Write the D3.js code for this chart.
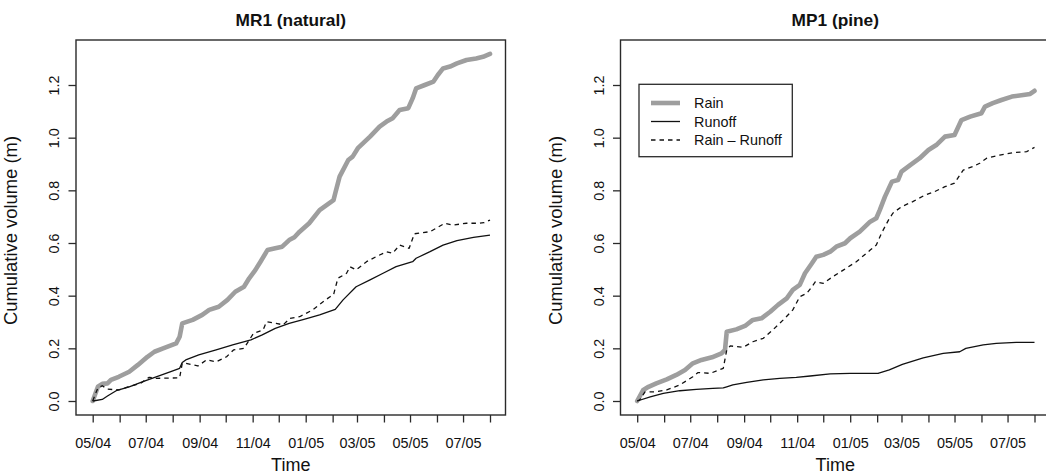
<!DOCTYPE html>
<html><head><meta charset="utf-8">
<script src="https://cdn.jsdelivr.net/npm/d3@7"></script>
<style>
body{margin:0;background:#fff}
svg{display:block}
text{font-family:"Liberation Sans",Arial,Helvetica,sans-serif;fill:#111}
</style>
</head><body>
<svg id="chart" width="1046" height="475"></svg>
<script>
// ---------- data ----------
const panelTitles = ["MR1 (natural)", "MP1 (pine)"];
const seriesNames = ["Rain", "Runoff", "Rain \u2013 Runoff"];
const yTicks = [0, 0.2, 0.4, 0.6, 0.8, 1.0, 1.2];
const xTickLabels = ["05/04","07/04","09/04","11/04","01/05","03/05","05/05","07/05"];
const timeStart = "2004-05-01";
const timeEnd = "2005-08-01";
const xLabel = "Time";
const yLabel = "Cumulative volume (m)";

const mr1Rain = [
["2004-05-01",0.000],["2004-05-07",0.054],["2004-05-12",0.065],["2004-05-18",0.067],["2004-05-22",0.080],
["2004-05-31",0.092],["2004-06-12",0.111],["2004-06-22",0.137],["2004-07-03",0.168],["2004-07-11",0.187],
["2004-07-21",0.200],["2004-08-05",0.219],["2004-08-09",0.244],["2004-08-12",0.295],["2004-08-24",0.308],
["2004-09-04",0.327],["2004-09-12",0.346],["2004-09-23",0.358],["2004-10-03",0.384],["2004-10-12",0.415],
["2004-10-22",0.434],["2004-10-28",0.466],["2004-11-04",0.497],["2004-11-10",0.529],["2004-11-18",0.573],
["2004-11-27",0.580],["2004-12-05",0.586],["2004-12-13",0.611],["2004-12-19",0.622],["2004-12-25",0.643],
["2005-01-05",0.675],["2005-01-17",0.725],["2005-01-25",0.744],["2005-02-02",0.763],["2005-02-04",0.789],
["2005-02-09",0.852],["2005-02-19",0.915],["2005-02-24",0.928],["2005-03-02",0.960],["2005-03-16",1.004],
["2005-03-27",1.042],["2005-04-04",1.061],["2005-04-11",1.074],["2005-04-19",1.105],["2005-04-29",1.112],
["2005-05-04",1.149],["2005-05-08",1.187],["2005-05-18",1.200],["2005-05-28",1.213],["2005-06-02",1.238],
["2005-06-08",1.263],["2005-06-16",1.270],["2005-06-24",1.282],["2005-07-05",1.295],["2005-07-16",1.301],
["2005-07-24",1.307],["2005-08-01",1.318]
];
const mr1Runoff = [
["2004-05-01",0.000],["2004-05-03",0.001],["2004-05-12",0.006],["2004-05-18",0.019],["2004-05-28",0.039],
["2004-06-12",0.054],["2004-06-27",0.073],["2004-07-13",0.092],["2004-07-29",0.111],["2004-08-09",0.124],
["2004-08-12",0.146],["2004-08-16",0.156],["2004-08-31",0.175],["2004-09-20",0.194],["2004-10-09",0.213],
["2004-10-30",0.232],["2004-11-12",0.251],["2004-11-27",0.276],["2004-12-13",0.295],["2004-12-30",0.310],
["2005-01-17",0.327],["2005-02-04",0.348],["2005-02-13",0.384],["2005-02-28",0.434],["2005-03-16",0.460],
["2005-03-31",0.485],["2005-04-15",0.510],["2005-05-04",0.529],["2005-05-08",0.542],["2005-05-24",0.567],
["2005-06-08",0.592],["2005-06-24",0.609],["2005-07-13",0.621],["2005-08-01",0.630]
];
const mr1Diff = [
["2004-05-01",0.000],["2004-05-07",0.050],["2004-05-12",0.058],["2004-05-18",0.045],["2004-05-31",0.042],
["2004-06-12",0.055],["2004-06-25",0.067],["2004-07-05",0.090],["2004-07-13",0.086],["2004-08-09",0.088],
["2004-08-12",0.143],["2004-08-16",0.143],["2004-08-30",0.133],["2004-09-09",0.156],["2004-09-20",0.149],
["2004-10-02",0.168],["2004-10-10",0.194],["2004-10-22",0.200],["2004-11-02",0.257],["2004-11-13",0.270],
["2004-11-17",0.301],["2004-11-28",0.295],["2004-12-06",0.289],["2004-12-14",0.314],["2004-12-25",0.320],
["2005-01-09",0.346],["2005-01-21",0.377],["2005-01-29",0.396],["2005-02-02",0.403],["2005-02-07",0.466],
["2005-02-17",0.485],["2005-02-21",0.510],["2005-02-28",0.498],["2005-03-12",0.529],["2005-03-23",0.548],
["2005-04-04",0.567],["2005-04-11",0.561],["2005-04-19",0.592],["2005-04-30",0.580],["2005-05-06",0.635],
["2005-05-15",0.639],["2005-05-24",0.643],["2005-05-31",0.656],["2005-06-10",0.675],["2005-06-19",0.668],
["2005-07-05",0.675],["2005-07-20",0.675],["2005-07-25",0.677],["2005-08-01",0.687]
];
const mp1Rain = [
["2004-05-01",0.000],["2004-05-08",0.042],["2004-05-14",0.054],["2004-05-23",0.067],["2004-06-04",0.082],
["2004-06-15",0.099],["2004-06-25",0.118],["2004-07-04",0.143],["2004-07-14",0.156],["2004-07-26",0.166],
["2004-08-06",0.181],["2004-08-10",0.194],["2004-08-12",0.263],["2004-08-23",0.272],["2004-09-02",0.285],
["2004-09-11",0.308],["2004-09-21",0.314],["2004-10-01",0.339],["2004-10-10",0.365],["2004-10-20",0.390],
["2004-10-27",0.422],["2004-11-04",0.441],["2004-11-10",0.485],["2004-11-18",0.523],["2004-11-23",0.548],
["2004-12-01",0.555],["2004-12-09",0.567],["2004-12-16",0.586],["2004-12-26",0.599],["2005-01-01",0.618],
["2005-01-12",0.643],["2005-01-24",0.681],["2005-01-31",0.694],["2005-02-04",0.725],["2005-02-10",0.776],
["2005-02-18",0.833],["2005-02-25",0.839],["2005-03-01",0.871],["2005-03-11",0.896],["2005-03-22",0.922],
["2005-04-01",0.953],["2005-04-10",0.972],["2005-04-20",1.004],["2005-05-01",1.010],["2005-05-09",1.067],
["2005-05-19",1.080],["2005-06-01",1.093],["2005-06-05",1.118],["2005-06-14",1.131],["2005-06-24",1.143],
["2005-07-06",1.156],["2005-07-19",1.162],["2005-07-27",1.166],["2005-08-01",1.178]
];
const mp1Runoff = [
["2004-05-01",0.000],["2004-05-16",0.016],["2004-05-31",0.029],["2004-06-19",0.039],["2004-07-08",0.044],
["2004-07-27",0.048],["2004-08-08",0.050],["2004-08-12",0.054],["2004-08-19",0.061],["2004-09-04",0.071],
["2004-09-23",0.080],["2004-10-12",0.086],["2004-10-31",0.090],["2004-11-16",0.095],["2004-12-09",0.103],
["2005-01-01",0.105],["2005-02-02",0.105],["2005-02-15",0.118],["2005-03-02",0.139],["2005-03-26",0.164],
["2005-04-18",0.181],["2005-05-07",0.187],["2005-05-14",0.200],["2005-06-03",0.213],["2005-06-18",0.219],
["2005-07-11",0.223],["2005-08-01",0.223]
];
const mp1Diff = [
["2004-05-01",0.000],["2004-05-04",0.004],["2004-05-10",0.035],["2004-05-21",0.035],["2004-06-04",0.042],
["2004-06-19",0.061],["2004-07-04",0.092],["2004-07-10",0.108],["2004-07-24",0.105],["2004-08-08",0.124],
["2004-08-12",0.194],["2004-08-16",0.209],["2004-08-31",0.204],["2004-09-11",0.225],["2004-09-23",0.238],
["2004-10-04",0.270],["2004-10-16",0.308],["2004-10-27",0.346],["2004-11-04",0.396],["2004-11-12",0.409],
["2004-11-18",0.434],["2004-11-22",0.453],["2004-12-01",0.447],["2004-12-12",0.472],["2004-12-24",0.497],
["2005-01-08",0.529],["2005-01-24",0.573],["2005-01-31",0.592],["2005-02-06",0.637],["2005-02-14",0.687],
["2005-02-19",0.713],["2005-03-01",0.738],["2005-03-14",0.757],["2005-03-28",0.782],["2005-04-08",0.795],
["2005-04-20",0.814],["2005-05-01",0.827],["2005-05-11",0.877],["2005-05-22",0.890],["2005-05-30",0.903],
["2005-06-07",0.922],["2005-06-22",0.934],["2005-07-07",0.943],["2005-07-23",0.947],["2005-08-01",0.963]
];

// ---------- drawing ----------
const parse = d3.utcParse("%Y-%m-%d");
const fmt = d3.utcFormat("%m/%y");
const svg = d3.select("#chart");

const panels = [
  {title: panelTitles[0], series: [mr1Rain, mr1Runoff, mr1Diff], dx: 0, legend: false},
  {title: panelTitles[1], series: [mp1Rain, mp1Runoff, mp1Diff], dx: 544.5, legend: true}
];

const styles = [
  {stroke: "#9e9e9e", width: 4.6, dash: null},
  {stroke: "#111", width: 1.3, dash: null},
  {stroke: "#111", width: 1.3, dash: "4.5,4"}
];

const box = {l: 76, r: 505.5, t: 40, b: 415};
const dataL = 92.7, dataR = 490;
const y = d3.scaleLinear().domain([0, 1.2]).range([401, 85]);
const t0 = parse(timeStart), t1 = parse(timeEnd);
const monthTicks = d3.utcMonth.range(t0, d3.utcDay.offset(t1, 1));

panels.forEach(p => {
  const g = svg.append("g").attr("transform", `translate(${p.dx},0)`);
  const x = d3.scaleUtc().domain([t0, t1]).range([dataL, dataR]);

  // series
  const line = d3.line().x(d => x(parse(d[0]))).y(d => y(d[1]));
  p.series.forEach((s, i) => {
    const st = styles[i];
    g.append("path").datum(s)
      .attr("d", line)
      .attr("fill", "none")
      .attr("stroke", st.stroke)
      .attr("stroke-width", st.width)
      .attr("stroke-linejoin", "round")
      .attr("stroke-linecap", i === 0 ? "round" : "butt")
      .attr("stroke-dasharray", st.dash);
  });

  // box
  g.append("rect").attr("x", box.l).attr("y", box.t)
    .attr("width", box.r - box.l).attr("height", box.b - box.t)
    .attr("fill", "none").attr("stroke", "#2a2a2a").attr("stroke-width", 1.4);

  // x axis
  const xa = g.append("g").attr("transform", `translate(0,${box.b})`)
    .call(d3.axisBottom(x).tickValues(monthTicks).tickSize(7.5)
      .tickFormat(d => xTickLabels.includes(fmt(d)) ? fmt(d) : ""));
  xa.select(".domain").remove();
  xa.selectAll(".tick line").attr("stroke", "#2a2a2a").attr("stroke-width", 1.3);
  xa.selectAll(".tick text").attr("y", 32.5).attr("dy", null)
    .style("font-size", "14.4px").attr("fill", "#111");

  // y axis
  const ya = g.append("g").attr("transform", `translate(${box.l},0)`)
    .call(d3.axisLeft(y).tickValues(yTicks).tickSize(7.5).tickFormat(d3.format(".1f")));
  ya.select(".domain").remove();
  ya.selectAll(".tick line").attr("stroke", "#2a2a2a").attr("stroke-width", 1.3);
  ya.selectAll(".tick text")
    .attr("transform", "rotate(-90)")
    .attr("x", 0).attr("y", -17).attr("dy", null)
    .attr("text-anchor", "middle")
    .style("font-size", "14.4px").attr("fill", "#111");

  // titles
  const cx = (box.l + box.r) / 2;
  g.append("text").attr("x", cx).attr("y", 26).attr("text-anchor", "middle")
    .style("font-size", "17.3px").style("font-weight", "bold").text(p.title);
  g.append("text").attr("x", cx).attr("y", 470.5).attr("text-anchor", "middle")
    .style("font-size", "18px").text(xLabel);
  g.append("text").attr("transform", `translate(17,${(box.t + box.b) / 2 + 3}) rotate(-90)`)
    .attr("text-anchor", "middle").style("font-size", "18.4px").text(yLabel);

  // legend
  if (p.legend) {
    const lg = g.append("g");
    lg.append("rect").attr("x", 94.5).attr("y", 84.3).attr("width", 153.3).attr("height", 72.4)
      .attr("fill", "#fff").attr("stroke", "#2a2a2a").attr("stroke-width", 1.3);
    const rows = [103, 121.5, 140];
    seriesNames.forEach((name, i) => {
      const st = styles[i];
      lg.append("line").attr("x1", 106.5).attr("x2", 135.5).attr("y1", rows[i]).attr("y2", rows[i])
        .attr("stroke", st.stroke).attr("stroke-width", st.width)
        .attr("stroke-dasharray", st.dash);
      lg.append("text").attr("x", 149.5).attr("y", rows[i] + 5.2)
        .style("font-size", "14.4px").text(name);
    });
  }
});
</script>
</body></html>
